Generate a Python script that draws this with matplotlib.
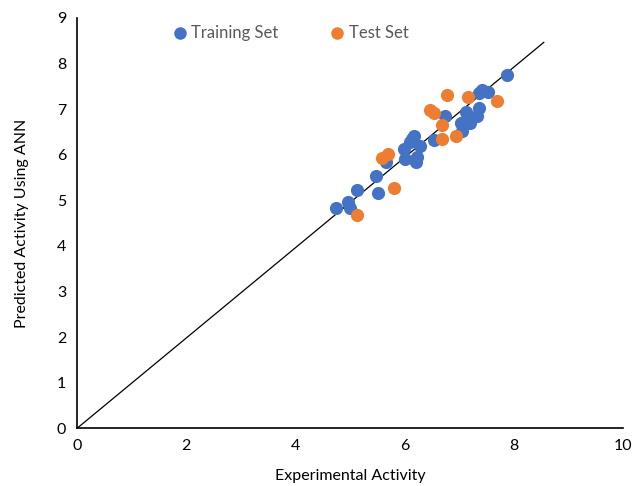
import matplotlib.pyplot as plt

# Training set (experimental, predicted)
train_x = [7.87, 7.42, 7.52, 7.37, 7.37, 7.32, 7.12, 7.20, 7.04, 7.06, 6.74, 6.53,
           6.18, 6.09, 6.28, 5.99, 6.01, 6.19, 6.20, 5.66, 5.48, 5.12, 5.52, 4.97,
           4.74, 4.99, 6.14, 6.22]
train_y = [7.75, 7.42, 7.38, 7.35, 7.03, 6.85, 6.94, 6.69, 6.69, 6.51, 6.85, 6.32,
           6.41, 6.28, 6.19, 6.12, 5.90, 5.88, 5.85, 5.85, 5.53, 5.22, 5.15, 4.97,
           4.82, 4.82, 6.35, 5.95]

# Test set
test_x = [6.78, 7.17, 7.70, 6.47, 6.53, 6.69, 6.69, 6.94, 5.70, 5.59, 5.81, 5.12]
test_y = [7.30, 7.26, 7.17, 6.98, 6.91, 6.66, 6.34, 6.41, 6.01, 5.93, 5.28, 4.67]

line_x = [0, 8.55]
line_slope = 0.99

plt.rcParams["font.family"] = ["Lato", "DejaVu Sans"]

fig = plt.figure(figsize=(6.33, 4.86), dpi=100)
ax = fig.add_axes([0.122, 0.119, 0.862, 0.844])

ax.plot(line_x, [v * line_slope for v in line_x], color="black", linewidth=0.9, zorder=1)
ax.scatter(train_x, train_y, s=90, color="#4472C4", label="Training Set", zorder=2, linewidths=0)
ax.scatter(test_x, test_y, s=90, color="#ED7D31", label="Test Set", zorder=3, linewidths=0)

ax.set_xlim(0, 10)
ax.set_ylim(0, 9)
ax.set_xticks(range(0, 11, 2))
ax.set_yticks(range(0, 10))
ax.tick_params(length=0, labelsize=11.5, pad=8)
for side in ("top", "right"):
    ax.spines[side].set_visible(False)
for side in ("left", "bottom"):
    ax.spines[side].set_linewidth(1.2)

ax.set_xlabel("Experimental Activity", fontsize=11.5, labelpad=11)
ax.set_ylabel("Predicted Activity Using ANN", fontsize=11.5, labelpad=20)

leg = ax.legend(loc="upper left", bbox_to_anchor=(0.13, 1.02), ncol=2, frameon=False,
                handletextpad=-0.3, columnspacing=2.5, fontsize=12, markerscale=0.95)
for t in leg.get_texts():
    t.set_color("#595959")

fig.savefig("out.png", dpi=100, facecolor="white")
